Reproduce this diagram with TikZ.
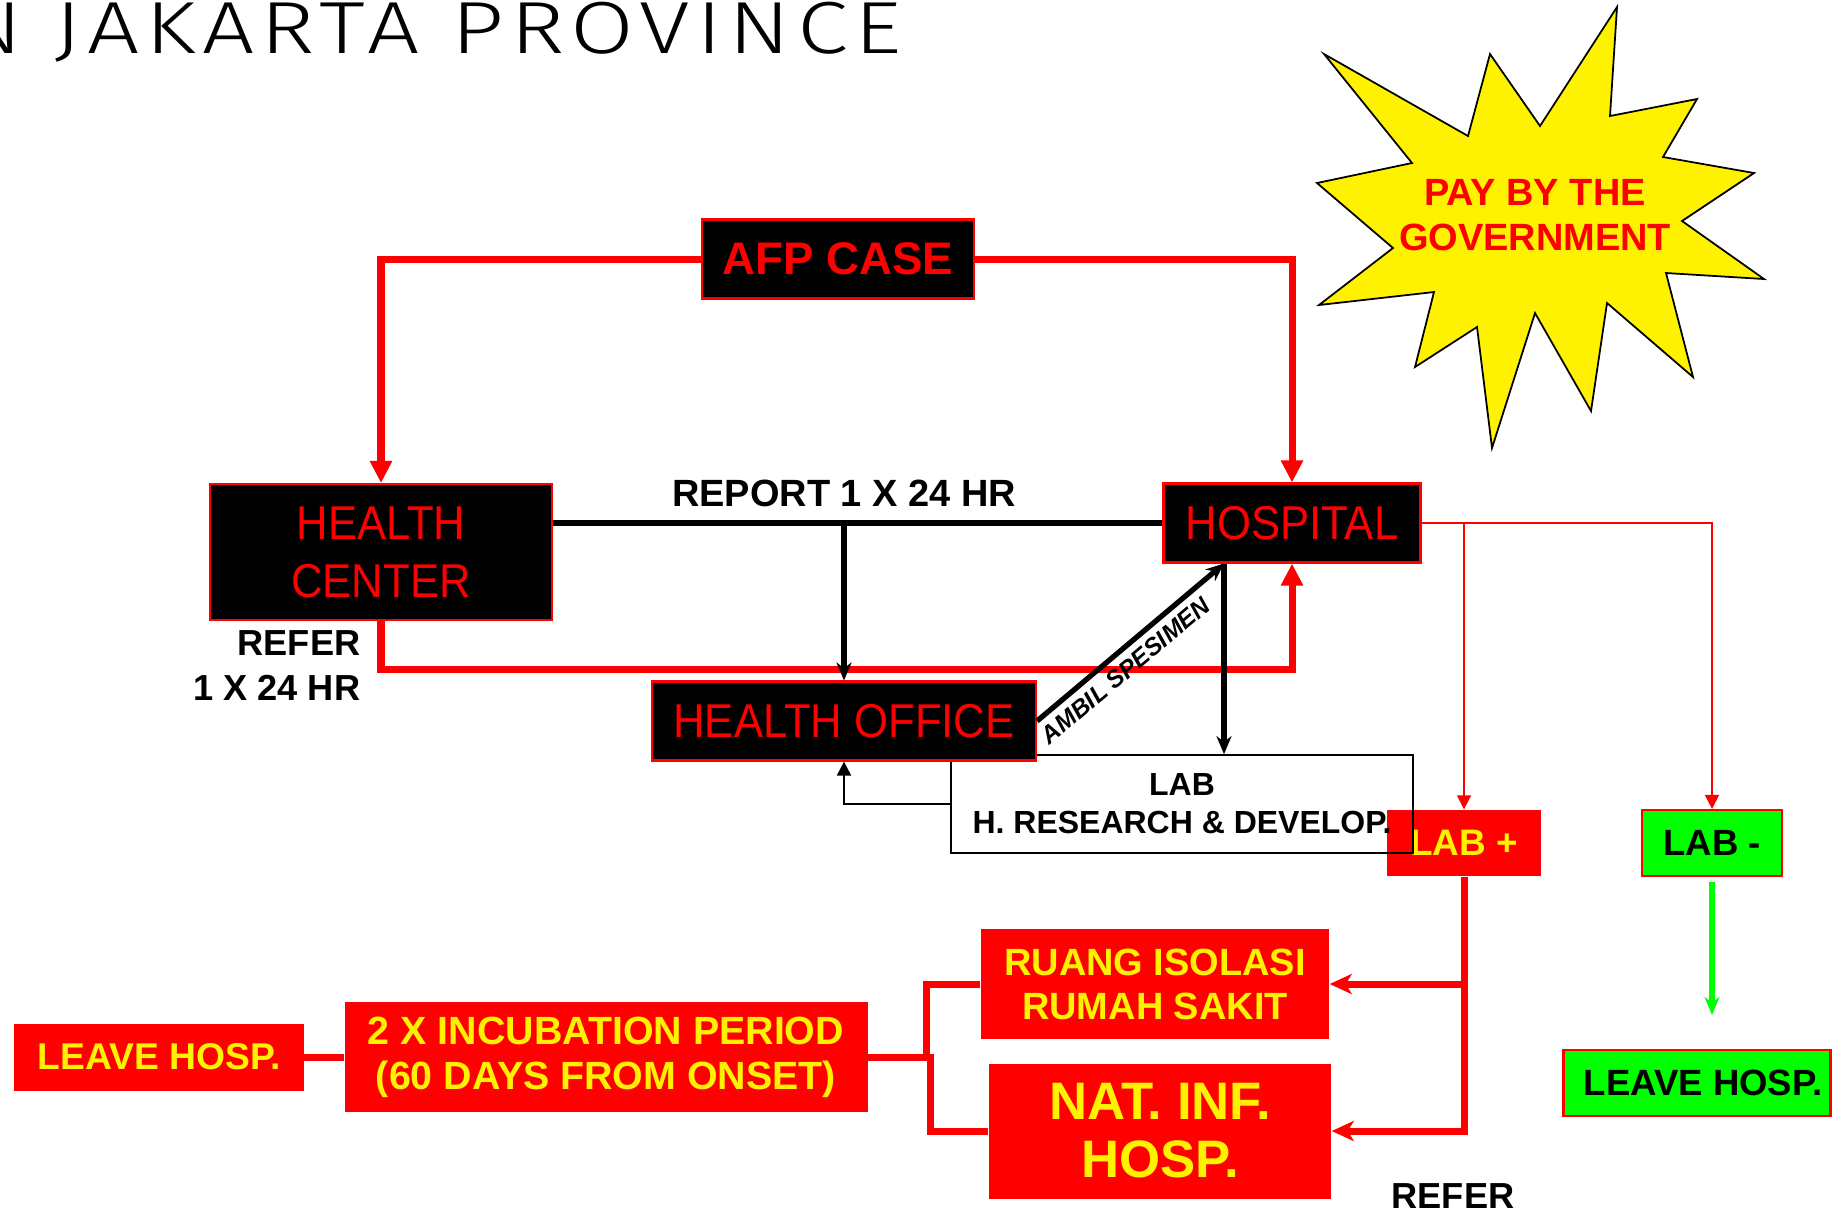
\documentclass[tikz,border=0pt]{standalone}
\usepackage{fontspec}
\setmainfont{Liberation Sans}
\newfontfamily\condfont[FakeStretch=0.92]{Liberation Sans}
\IfFontExistsTF{Fira Sans Light}
  {\newfontfamily\titlefont[FakeStretch=1.25, LetterSpace=8.5]{Fira Sans Light}}
  {\newfontfamily\titlefont[FakeStretch=1.17]{Liberation Sans}}
\usetikzlibrary{arrows.meta}
\tikzstyle{dark box}=[draw=red, fill=black, line width=0.6pt, text=red, inner sep=0pt, align=center, font=\fontsize{13.5}{16.5}\selectfont\condfont]
\tikzstyle{red box}=[fill=red, text=yellow, inner sep=0pt, align=center, font=\fontsize{10.8}{12.5}\selectfont\bfseries]
\tikzstyle{green box}=[fill=green, draw=red, line width=0.6pt, inner sep=0pt, font=\fontsize{10.4}{12}\selectfont\bfseries]
\tikzstyle{lab box}=[draw, line width=0.5pt, inner sep=0pt, align=center, font=\fontsize{9.1}{10.8}\selectfont\bfseries]
\tikzstyle{note}=[inner sep=0pt, font=\fontsize{10.3}{12}\selectfont\bfseries]
\tikzstyle{red line}=[red, line width=2pt]
\tikzstyle{black line}=[line width=1.5pt]
\tikzstyle{thin line}=[line width=0.5pt]
\tikzstyle{thin red}=[red, line width=0.5pt]
\tikzstyle{green line}=[green, line width=1.5pt]
\tikzstyle{big arrow}=[-{Triangle[length=2.2mm,width=2.1mm]}]
\tikzstyle{arrow}=[-{Stealth[length=1.8mm,width=1.5mm]}]
\tikzstyle{small arrow}=[-{Triangle[length=1.4mm,width=1.4mm]}]
\tikzstyle{side arrow}=[-{Stealth[length=2.2mm,width=2mm,inset=0.6mm]}]

\begin{document}
\begin{tikzpicture}
    \useasboundingbox (0,0) rectangle (18.42,-12.11);

    \node [anchor=base east, inner sep=0pt, font=\fontsize{21}{25}\selectfont\titlefont] (title) at (9.02,-0.53) {N JAKARTA PROVINCE};

    % star
    \draw [fill=yellow, line width=0.5pt] (13.24,-0.54) -- (14.68,-1.36) -- (14.90,-0.54) -- (15.40,-1.26)
        -- (16.17,-0.07) -- (16.10,-1.16) -- (16.97,-0.99) -- (16.63,-1.57) -- (17.54,-1.73)
        -- (16.82,-2.21) -- (17.64,-2.79) -- (16.66,-2.73) -- (16.93,-3.77) -- (16.07,-3.03)
        -- (15.91,-4.11) -- (15.35,-3.13) -- (14.92,-4.48) -- (14.77,-3.27) -- (14.15,-3.67)
        -- (14.34,-2.92) -- (13.19,-3.05) -- (13.93,-2.48) -- (13.17,-1.83) -- (14.12,-1.63) -- cycle;
    \node [align=center, text=red, font=\fontsize{10.8}{12.8}\selectfont\bfseries] (pay) at (15.35,-2.15) {PAY BY THE\\GOVERNMENT};

    \node [dark box, minimum width=2.72cm, minimum height=0.79cm, font=\fontsize{13}{15}\selectfont\bfseries] (afp) at (8.38,-2.59) {AFP CASE};
    \node [dark box, minimum width=3.42cm, minimum height=1.36cm] (hc) at (3.81,-5.52) {HEALTH\\CENTER};
    \node [dark box, minimum width=2.57cm, minimum height=0.79cm] (hosp) at (12.92,-5.23) {HOSPITAL};

    \node [red box, minimum width=1.54cm, minimum height=0.66cm, font=\fontsize{10.5}{12}\selectfont\bfseries] (labpos) at (14.64,-8.43) {LAB +};
    \node [lab box, minimum width=4.62cm, minimum height=0.98cm] (lab) at (11.82,-8.04) {LAB\\H. RESEARCH \& DEVELOP.};
    \node [dark box, minimum width=3.84cm, minimum height=0.79cm] (ho) at (8.44,-7.21) {HEALTH OFFICE};
    \node [green box, minimum width=1.40cm, minimum height=0.66cm] (labneg) at (17.12,-8.43) {LAB -};
    \node [green box, minimum width=2.67cm, minimum height=0.66cm] (leave-green) at (16.97,-10.83) {\hspace*{1.2mm}LEAVE HOSP.};

    \node [red box, minimum width=3.48cm, minimum height=1.10cm] (ruang) at (11.55,-9.84) {RUANG ISOLASI\\RUMAH SAKIT};
    \node [red box, minimum width=3.42cm, minimum height=1.35cm, font=\fontsize{15}{16.5}\selectfont\bfseries] (nat) at (11.60,-11.31) {NAT. INF.\\HOSP.};
    \node [red box, minimum width=5.23cm, minimum height=1.10cm, font=\fontsize{11.2}{12.8}\selectfont\bfseries] (incub) at (6.06,-10.57) {2 X INCUBATION PERIOD\\(60 DAYS FROM ONSET)};
    \node [red box, minimum width=2.89cm, minimum height=0.67cm, font=\fontsize{10.6}{12}\selectfont\bfseries] (leave-red) at (1.59,-10.57) {LEAVE HOSP.};

    \node [note, anchor=base, font=\fontsize{10.8}{12}\selectfont\bfseries] (report) at (8.44,-5.06) {REPORT 1 X 24 HR};
    \node [note, anchor=base east] (refer-1) at (3.61,-6.55) {REFER};
    \node [note, anchor=base east] (refer-2) at (3.61,-7.00) {1 X 24 HR};
    \node [note, anchor=base] (refer-3) at (14.53,-12.08) {REFER};

    \coordinate (spec) at ([xshift=-6.8mm]hosp.south);

    \draw [red line, big arrow] (afp.west) -| (hc.north);
    \draw [red line, big arrow] (afp.east) -| (hosp.north);
    \draw [red line, big arrow] (hc.south) -- ++(0,-0.48) -| (hosp.south);

    \draw [black line] (hc.east |- hosp.west) -- (hosp.west);
    \draw [black line, arrow] (ho.north |- hosp.west) -- (ho.north);
    \draw [black line, arrow] (ho.east) -- (spec)
        node [below=2pt, pos=0.41, sloped, inner sep=0pt, font=\fontsize{7}{8}\selectfont\bfseries\itshape] {AMBIL SPESIMEN};
    \draw [black line, arrow] (spec) -- (spec |- lab.north);
    \draw [thin line, small arrow] (lab.west) -| (ho.south);

    \draw [thin red, small arrow] (hosp.east) -| (labneg.north);
    \draw [thin red, small arrow] (labpos.north |- hosp.east) -- (labpos.north);
    \draw [green line, arrow, shorten <=0.5mm, shorten >=3.4mm] (labneg.south) -- (labneg.south |- leave-green.north);

    \draw [red line, side arrow] (labpos.south) |- (nat.east);
    \draw [red line, side arrow] (labpos.south |- ruang.east) -- (ruang.east);
    \draw [red line] (incub.east) -- ++(0.58,0) |- (ruang.west);
    \draw [red line] (incub.east) -- ++(0.62,0) |- (nat.west);
    \draw [red line] (leave-red.east) -- (incub.west);
\end{tikzpicture}
\end{document}
